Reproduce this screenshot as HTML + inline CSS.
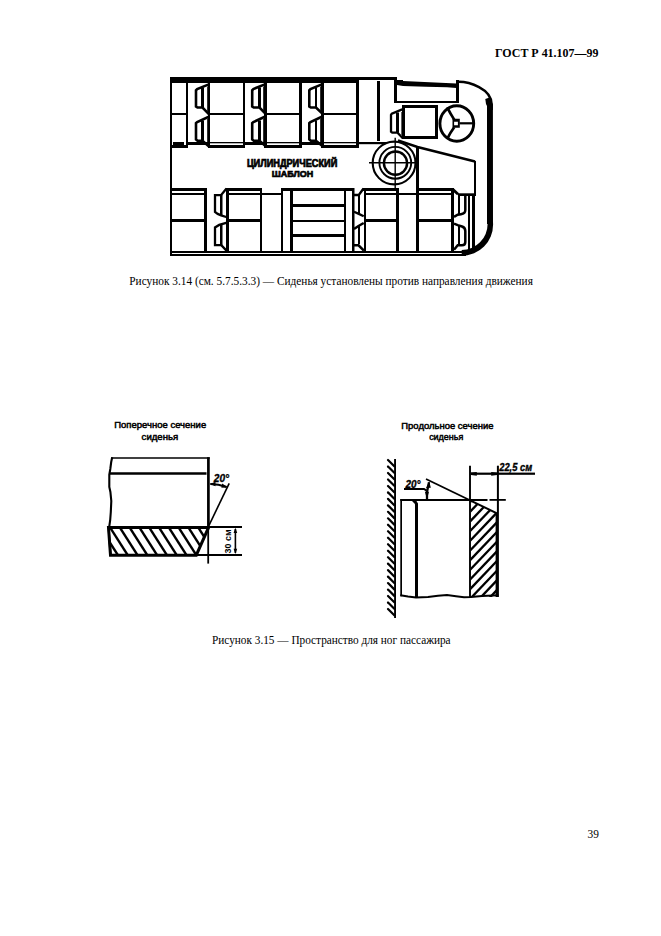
<!DOCTYPE html>
<html><head><meta charset="utf-8"><title>ГОСТ Р 41.107—99</title>
<style>
html,body{margin:0;padding:0;background:#fff;}
body{width:661px;height:936px;overflow:hidden;position:relative;}
svg{position:absolute;left:0;top:0;}
.serif{font-family:"Liberation Serif",serif;fill:#000;}
.lbl{font-family:"Liberation Sans",sans-serif;font-weight:bold;fill:#000;stroke:#000;stroke-width:0.7px;}
.lbl2{font-family:"Liberation Sans",sans-serif;font-weight:normal;fill:#000;stroke:#000;stroke-width:0.5px;}
.lbl3{font-family:"Liberation Sans",sans-serif;font-weight:bold;fill:#000;stroke:none;}
.dim{font-family:"Liberation Sans",sans-serif;font-weight:bold;font-style:italic;fill:#000;stroke:#000;stroke-width:0.35px;}
</style></head>
<body>
<svg width="661" height="936" viewBox="0 0 661 936">
<text class="serif" x="495" y="57" font-size="12.4" font-weight="bold" textLength="103.4" lengthAdjust="spacingAndGlyphs">ГОСТ Р 41.107—99</text>
<g stroke="#000" fill="none" stroke-linecap="butt" stroke-linejoin="miter">
<rect x="170" y="77" width="186" height="6" fill="#000" stroke="none"/>
<rect x="356" y="77" width="41" height="3" fill="#000" stroke="none"/>
<rect x="394" y="77" width="3" height="26" fill="#000" stroke="none"/>
<polygon points="397,80 403,80 403,81 456.5,83.4 456.5,88 447,87.3 426,86.7 403,86 397,85" fill="#000" stroke="none"/>
<rect x="456" y="80" width="3" height="23" fill="#000" stroke="none"/>
<rect x="394" y="101" width="65" height="2" fill="#000" stroke="none"/>
<path d="M458.5,81.8 C469,81.8 491.7,88.5 491.7,104.5 L491.7,110" stroke-width="2.4" fill="none"/>
<polygon points="485.3,99 489.5,97.5 492.9,104.5 493,224 487,224 487,106 486,104" fill="#000" stroke="none"/>
<path d="M493,222 L493.1,224.6 A30.8,31.1 0 0 1 462.3,255.7 L461.7,255.7 L461.7,249.9 A25.9,25.9 0 0 0 487.6,224 L487,222 Z" fill="#000" stroke="none"/>
<rect x="170" y="77" width="2" height="179" fill="#000" stroke="none"/>
<rect x="170" y="251" width="296" height="2" fill="#000" stroke="none"/>
<rect x="170" y="254" width="296" height="2" fill="#000" stroke="none"/>
<rect x="186" y="77" width="2" height="71" fill="#000" stroke="none"/>
<rect x="243" y="77" width="2" height="71" fill="#000" stroke="none"/>
<rect x="299" y="77" width="3" height="71" fill="#000" stroke="none"/>
<rect x="356" y="77" width="3" height="71" fill="#000" stroke="none"/>
<rect x="172" y="113" width="14" height="2" fill="#000" stroke="none"/>
<rect x="173" y="142" width="11" height="3" fill="#000" stroke="none"/>
<rect x="172" y="145" width="16" height="3" fill="#000" stroke="none"/>
<rect x="208" y="83" width="2" height="65" fill="#000" stroke="none"/>
<rect x="210" y="113" width="33" height="2" fill="#000" stroke="none"/>
<rect x="210" y="142" width="33" height="1.3" fill="#000" stroke="none"/>
<rect x="208" y="145" width="37" height="3" fill="#000" stroke="none"/>
<rect x="188" y="142" width="20.5" height="3" fill="#000" stroke="none"/>
<path d="M208.8,84.4 L197.2,89 L196.0,90.3 L196.0,106.5 L197.5,107.5 L202.5,107.5 L209.4,114.6" stroke-width="2.6" fill="none"/>
<rect x="201" y="87.5" width="3" height="20.0" fill="#000" stroke="none"/>
<line x1="207.6" y1="86.5" x2="207.6" y2="111" stroke-width="0.9"/>
<path d="M208.8,116.8 L197.2,122 L196.0,123.1 L196.0,139.5 L197.5,140.8 L202.5,140.8 L209.6,147" stroke-width="2.6" fill="none"/>
<rect x="201" y="120.5" width="3" height="20.0" fill="#000" stroke="none"/>
<line x1="207.6" y1="119" x2="207.6" y2="142" stroke-width="0.9"/>
<rect x="264" y="83" width="3" height="65" fill="#000" stroke="none"/>
<rect x="267" y="113" width="32" height="2" fill="#000" stroke="none"/>
<rect x="267" y="142" width="32" height="1.3" fill="#000" stroke="none"/>
<rect x="264" y="145" width="38" height="3" fill="#000" stroke="none"/>
<rect x="245" y="142" width="19.5" height="3" fill="#000" stroke="none"/>
<path d="M264.8,84.4 L253.39999999999998,89 L252.2,90.3 L252.2,106.5 L253.7,107.5 L259.5,107.5 L266.4,114.6" stroke-width="2.6" fill="none"/>
<rect x="258" y="87.5" width="3" height="20.0" fill="#000" stroke="none"/>
<line x1="263.6" y1="86.5" x2="263.6" y2="111" stroke-width="0.9"/>
<path d="M264.8,116.8 L253.39999999999998,122 L252.2,123.1 L252.2,139.5 L253.7,140.8 L259.5,140.8 L266.6,147" stroke-width="2.6" fill="none"/>
<rect x="258" y="120.5" width="3" height="20.0" fill="#000" stroke="none"/>
<line x1="263.6" y1="119" x2="263.6" y2="142" stroke-width="0.9"/>
<rect x="321" y="83" width="3" height="65" fill="#000" stroke="none"/>
<rect x="324" y="113" width="32" height="2" fill="#000" stroke="none"/>
<rect x="324" y="142" width="32" height="1.3" fill="#000" stroke="none"/>
<rect x="321" y="145" width="38" height="3" fill="#000" stroke="none"/>
<rect x="302" y="142" width="19.5" height="3" fill="#000" stroke="none"/>
<path d="M321.8,84.4 L310.5,89 L309.3,90.3 L309.3,106.5 L310.8,107.5 L316.0,107.5 L323.4,114.6" stroke-width="2.6" fill="none"/>
<rect x="315" y="87.5" width="2" height="20.0" fill="#000" stroke="none"/>
<line x1="320.6" y1="86.5" x2="320.6" y2="111" stroke-width="0.9"/>
<path d="M321.8,116.8 L310.5,122 L309.3,123.1 L309.3,139.5 L310.8,140.8 L316.0,140.8 L323.6,147" stroke-width="2.6" fill="none"/>
<rect x="315" y="120.5" width="2" height="20.0" fill="#000" stroke="none"/>
<line x1="320.6" y1="119" x2="320.6" y2="142" stroke-width="0.9"/>
<rect x="377" y="81" width="3" height="60" fill="#000" stroke="none"/>
<rect x="359" y="142" width="27" height="2.2" fill="#000" stroke="none"/>
<path d="M402.2,109.4 L391.8,113.6 L391,114.8 L391,131.6 L392.3,132.7 L397.5,132.7 L402.8,138.2" stroke-width="2.3" fill="none"/>
<rect x="396" y="112.5" width="3" height="20.2" fill="#000" stroke="none"/>
<line x1="401.8" y1="112" x2="401.8" y2="135" stroke-width="0.9"/>
<rect x="403.5" y="106.5" width="33" height="31" fill="none" stroke-width="3"/>
<ellipse cx="456.8" cy="123.5" rx="16.9" ry="17.8" fill="none" stroke-width="2.9"/>
<path d="M452.5,118.8 H459.8 V127.7 H452.5 Z M454.1,121.7 V125.2 H457.9 V121.7 Z" fill="#000" fill-rule="evenodd" stroke="none"/>
<rect x="459.5" y="122.2" width="13.5" height="2.2" fill="#000" stroke="none"/>
<path d="M454.2,119.6 Q450,113 447.2,107.4" stroke-width="2.7" fill="none"/>
<path d="M454.2,127.2 Q450,133 447.2,138.8" stroke-width="2.7" fill="none"/>
<circle cx="394.1" cy="163" r="21.4" fill="none" stroke-width="2.1"/>
<circle cx="395.3" cy="162.8" r="15.9" fill="none" stroke-width="1.9"/>
<circle cx="395.5" cy="163.1" r="11.6" fill="none" stroke-width="2.4"/>
<line x1="369" y1="162.8" x2="416.5" y2="162.8" stroke-width="1.6"/>
<line x1="395.2" y1="137.8" x2="395.2" y2="188" stroke-width="1.4"/>
<path d="M398,140.4 L417.5,147 L475,161.5" stroke-width="2.5" fill="none"/>
<rect x="474" y="161" width="2" height="34" fill="#000" stroke="none"/>
<rect x="416" y="146.5" width="3" height="104.5" fill="#000" stroke="none"/>
<rect x="172" y="188" width="35" height="3" fill="#000" stroke="none"/>
<rect x="172" y="193" width="32" height="2" fill="#000" stroke="none"/>
<rect x="204" y="188" width="3" height="63" fill="#000" stroke="none"/>
<rect x="172" y="219" width="32" height="3" fill="#000" stroke="none"/>
<rect x="226" y="188" width="3" height="63" fill="#000" stroke="none"/>
<rect x="226" y="188" width="36" height="3" fill="#000" stroke="none"/>
<rect x="229" y="193" width="52" height="2" fill="#000" stroke="none"/>
<rect x="260" y="188" width="2" height="63" fill="#000" stroke="none"/>
<rect x="229" y="219" width="31" height="3" fill="#000" stroke="none"/>
<path d="M226.5,188.5 L221,195.2 L215,195.2 L215,212 L217.7,213.9 L221.1,215.4 L226.2,217" stroke-width="2.3" fill="none"/>
<rect x="220" y="195" width="2.5" height="20" fill="#000" stroke="none"/>
<path d="M226.2,222.9 L219.2,224.9 L215,227.4 L215,245.2 L221.3,245.2 L226.5,250.6" stroke-width="2.3" fill="none"/>
<rect x="220" y="225" width="2.5" height="21" fill="#000" stroke="none"/>
<rect x="281" y="188" width="2" height="63" fill="#000" stroke="none"/>
<rect x="281" y="188" width="73" height="3" fill="#000" stroke="none"/>
<rect x="290" y="190" width="3" height="61" fill="#000" stroke="none"/>
<rect x="293" y="204" width="51" height="3" fill="#000" stroke="none"/>
<rect x="293" y="220" width="51" height="2" fill="#000" stroke="none"/>
<rect x="293" y="234" width="51" height="3" fill="#000" stroke="none"/>
<rect x="344" y="190" width="2" height="61" fill="#000" stroke="none"/>
<rect x="352" y="188" width="2.5" height="63" fill="#000" stroke="none"/>
<rect x="364" y="189" width="2" height="62" fill="#000" stroke="none"/>
<rect x="363" y="188" width="36" height="3" fill="#000" stroke="none"/>
<rect x="366" y="193" width="85" height="2" fill="#000" stroke="none"/>
<rect x="396" y="188" width="3" height="63" fill="#000" stroke="none"/>
<rect x="366" y="219" width="30" height="3" fill="#000" stroke="none"/>
<path d="M363.5,188.5 L358.8,195 L354,195 M354,211.7 L358.8,213.9 L363.7,216.2" stroke-width="2.3" fill="none"/>
<rect x="358" y="195" width="2" height="18" fill="#000" stroke="none"/>
<path d="M354,229 L358.5,226 L363.7,223 M354,245.3 L358.5,245.3 L363.9,250.6" stroke-width="2.5" fill="none"/>
<rect x="358" y="226" width="2" height="18" fill="#000" stroke="none"/>
<rect x="419" y="188" width="34.5" height="3" fill="#000" stroke="none"/>
<path d="M453,189.6 L458.1,194.2" stroke-width="2.8" fill="none"/>
<rect x="451" y="188" width="3" height="63" fill="#000" stroke="none"/>
<rect x="419" y="219" width="32" height="3" fill="#000" stroke="none"/>
<path d="M465.3,195 L465.3,210 Q465.3,213.6 461,214.2 L457.7,214.7 L454,216.9" stroke-width="2.5" fill="none"/>
<rect x="458" y="195" width="2" height="19.6" fill="#000" stroke="none"/>
<path d="M454,223.6 L457.7,225.1 L462,226.5 Q465.3,227.5 465.3,231 L465.3,242 Q465.3,245.3 462,245.3 L457.7,245.3 L454,249.8" stroke-width="2.5" fill="none"/>
<rect x="458" y="225.5" width="2" height="20.0" fill="#000" stroke="none"/>
<rect x="458" y="193.3" width="18" height="2.7" fill="#000" stroke="none"/>
<rect x="468" y="195" width="2" height="56" fill="#000" stroke="none"/>
<rect x="472" y="195" width="3" height="56" fill="#000" stroke="none"/>
<text x="246.9" y="166.8" textLength="90.4" lengthAdjust="spacingAndGlyphs" class="lbl" font-size="10">ЦИЛИНДРИЧЕСКИЙ</text>
<text x="271.8" y="176.9" textLength="41.4" lengthAdjust="spacingAndGlyphs" class="lbl" font-size="9.4">ШАБЛОН</text>
</g>
<text class="serif" x="129.3" y="285.1" font-size="11.6" textLength="403.6" lengthAdjust="spacingAndGlyphs">Рисунок 3.14 (см. 5.7.5.3.3) — Сиденья установлены против направления движения</text>
<g stroke="#000" fill="none" stroke-linecap="butt" stroke-linejoin="miter">
<line x1="111.2" y1="457.9" x2="209.7" y2="457.9" stroke-width="1.5"/>
<line x1="109" y1="473.5" x2="206.5" y2="473.5" stroke-width="2.6"/>
<path d="M112.2,457.2 L111.2,462 L110.3,469 L109.3,474.5 L109.3,487 L110.4,492 L111.3,501 L110.8,512 L110.2,520 L109.2,527" stroke-width="2.1" fill="none"/>
<line x1="208.4" y1="457.2" x2="208.4" y2="527.6" stroke-width="2.7"/>
<defs><clipPath id="hc1"><polygon points="109,528 208.5,528 196.5,555 110,555"/></clipPath><clipPath id="hc2"><polygon points="470.8,501 497,513.6 497,597 470.8,597"/></clipPath></defs>
<g clip-path="url(#hc1)"><line x1="88.20" y1="524" x2="111.24" y2="560" stroke-width="2.4"/><line x1="98.00" y1="524" x2="121.04" y2="560" stroke-width="2.4"/><line x1="107.80" y1="524" x2="130.84" y2="560" stroke-width="2.4"/><line x1="117.60" y1="524" x2="140.64" y2="560" stroke-width="2.4"/><line x1="127.40" y1="524" x2="150.44" y2="560" stroke-width="2.4"/><line x1="137.20" y1="524" x2="160.24" y2="560" stroke-width="2.4"/><line x1="147.00" y1="524" x2="170.04" y2="560" stroke-width="2.4"/><line x1="156.80" y1="524" x2="179.84" y2="560" stroke-width="2.4"/><line x1="166.60" y1="524" x2="189.64" y2="560" stroke-width="2.4"/><line x1="176.40" y1="524" x2="199.44" y2="560" stroke-width="2.4"/><line x1="186.20" y1="524" x2="209.24" y2="560" stroke-width="2.4"/><line x1="196.00" y1="524" x2="219.04" y2="560" stroke-width="2.4"/><line x1="205.80" y1="524" x2="228.84" y2="560" stroke-width="2.4"/><line x1="215.60" y1="524" x2="238.64" y2="560" stroke-width="2.4"/></g>
<path d="M108.5,527.4 L208.6,527.4 L196.3,555.2 L110.5,555.2 Z" stroke-width="3.0" fill="none"/>
<path d="M108.5,527 L109.5,541 L110.5,555" stroke-width="2.0" fill="none"/>
<rect x="209" y="526" width="33" height="2" fill="#000" stroke="none"/>
<rect x="196" y="554" width="46" height="2" fill="#000" stroke="none"/>
<line x1="208.2" y1="527" x2="208.2" y2="563.6" stroke-width="1.8"/>
<line x1="235.4" y1="529" x2="235.4" y2="553" stroke-width="1.6"/>
<polygon points="235.4,527.8 233.6,533 237.2,533" fill="#000" stroke="none"/>
<polygon points="235.4,554 233.6,548.8 237.2,548.8" fill="#000" stroke="none"/>
<text transform="translate(231.4,553.4) rotate(-90)" x="0" y="0" textLength="24" lengthAdjust="spacingAndGlyphs" class="lbl3" font-size="9.6">30 см</text>
<line x1="209" y1="525.3" x2="229.2" y2="483.4" stroke-width="1.6"/>
<path d="M210.3,484 Q218.5,484 226.6,487" stroke-width="2.2" fill="none"/>
<polygon points="209.8,484 215.5,481.8 215.5,486.2" fill="#000" stroke="none"/>
<polygon points="227.6,487.3 222.2,483.5 221.4,487.8" fill="#000" stroke="none"/>
<text x="213.8" y="482.4" textLength="15.4" lengthAdjust="spacingAndGlyphs" class="dim" font-size="11.5">20°</text>
<text x="160.2" y="428.3" text-anchor="middle" textLength="92" lengthAdjust="spacingAndGlyphs" class="lbl2" font-size="9.6">Поперечное сечение</text>
<text x="159.9" y="439.6" text-anchor="middle" textLength="36.6" lengthAdjust="spacingAndGlyphs" class="lbl2" font-size="9.6">сиденья</text>
<line x1="395.05" y1="459.1" x2="395.05" y2="617.9" stroke-width="1.9"/>
<line x1="388.0" y1="460.00" x2="394.3" y2="466.30" stroke-width="2.2" stroke-linecap="round"/><line x1="388.0" y1="466.48" x2="394.3" y2="472.78" stroke-width="2.2" stroke-linecap="round"/><line x1="388.0" y1="472.96" x2="394.3" y2="479.26" stroke-width="2.2" stroke-linecap="round"/><line x1="388.0" y1="479.43" x2="394.3" y2="485.73" stroke-width="2.2" stroke-linecap="round"/><line x1="388.0" y1="485.91" x2="394.3" y2="492.21" stroke-width="2.2" stroke-linecap="round"/><line x1="388.0" y1="492.39" x2="394.3" y2="498.69" stroke-width="2.2" stroke-linecap="round"/><line x1="388.0" y1="498.87" x2="394.3" y2="505.17" stroke-width="2.2" stroke-linecap="round"/><line x1="388.0" y1="505.35" x2="394.3" y2="511.65" stroke-width="2.2" stroke-linecap="round"/><line x1="388.0" y1="511.83" x2="394.3" y2="518.13" stroke-width="2.2" stroke-linecap="round"/><line x1="388.0" y1="518.30" x2="394.3" y2="524.60" stroke-width="2.2" stroke-linecap="round"/><line x1="388.0" y1="524.78" x2="394.3" y2="531.08" stroke-width="2.2" stroke-linecap="round"/><line x1="388.0" y1="531.26" x2="394.3" y2="537.56" stroke-width="2.2" stroke-linecap="round"/><line x1="388.0" y1="537.74" x2="394.3" y2="544.04" stroke-width="2.2" stroke-linecap="round"/><line x1="388.0" y1="544.22" x2="394.3" y2="550.52" stroke-width="2.2" stroke-linecap="round"/><line x1="388.0" y1="550.70" x2="394.3" y2="557.00" stroke-width="2.2" stroke-linecap="round"/><line x1="388.0" y1="557.17" x2="394.3" y2="563.47" stroke-width="2.2" stroke-linecap="round"/><line x1="388.0" y1="563.65" x2="394.3" y2="569.95" stroke-width="2.2" stroke-linecap="round"/><line x1="388.0" y1="570.13" x2="394.3" y2="576.43" stroke-width="2.2" stroke-linecap="round"/><line x1="388.0" y1="576.61" x2="394.3" y2="582.91" stroke-width="2.2" stroke-linecap="round"/><line x1="388.0" y1="583.09" x2="394.3" y2="589.39" stroke-width="2.2" stroke-linecap="round"/><line x1="388.0" y1="589.57" x2="394.3" y2="595.87" stroke-width="2.2" stroke-linecap="round"/><line x1="388.0" y1="596.04" x2="394.3" y2="602.34" stroke-width="2.2" stroke-linecap="round"/><line x1="388.0" y1="602.52" x2="394.3" y2="608.82" stroke-width="2.2" stroke-linecap="round"/><line x1="388.0" y1="609.00" x2="394.3" y2="615.30" stroke-width="2.2" stroke-linecap="round"/>
<line x1="401.15" y1="499" x2="401.15" y2="596.3" stroke-width="1.7"/>
<line x1="400.3" y1="499.9" x2="487.5" y2="499.9" stroke-width="2.0"/>
<line x1="489.5" y1="499.9" x2="505.8" y2="499.9" stroke-width="1.8"/>
<path d="M413.2,500.3 L415.3,502 L416.5,504 L416.5,597.5" stroke-width="3.0" fill="none"/>
<path d="M400.3,595.2 L408,596.5 L416,597.4 L428,597 L438,595.8 L447,595 L456,596.2 L464,597.2 L471,597 L482,596 L498.5,595.3" stroke-width="2.0" fill="none"/>
<g clip-path="url(#hc2)"><line x1="468" y1="484.90" x2="500" y2="451.30" stroke-width="2.3"/><line x1="468" y1="494.58" x2="500" y2="460.98" stroke-width="2.3"/><line x1="468" y1="504.26" x2="500" y2="470.66" stroke-width="2.3"/><line x1="468" y1="513.94" x2="500" y2="480.34" stroke-width="2.3"/><line x1="468" y1="523.62" x2="500" y2="490.02" stroke-width="2.3"/><line x1="468" y1="533.30" x2="500" y2="499.70" stroke-width="2.3"/><line x1="468" y1="542.98" x2="500" y2="509.38" stroke-width="2.3"/><line x1="468" y1="552.66" x2="500" y2="519.06" stroke-width="2.3"/><line x1="468" y1="562.34" x2="500" y2="528.74" stroke-width="2.3"/><line x1="468" y1="572.02" x2="500" y2="538.42" stroke-width="2.3"/><line x1="468" y1="581.70" x2="500" y2="548.10" stroke-width="2.3"/><line x1="468" y1="591.38" x2="500" y2="557.78" stroke-width="2.3"/><line x1="468" y1="601.06" x2="500" y2="567.46" stroke-width="2.3"/><line x1="468" y1="610.74" x2="500" y2="577.14" stroke-width="2.3"/><line x1="468" y1="620.42" x2="500" y2="586.82" stroke-width="2.3"/><line x1="468" y1="630.10" x2="500" y2="596.50" stroke-width="2.3"/><line x1="468" y1="639.78" x2="500" y2="606.18" stroke-width="2.3"/></g>
<line x1="470.0" y1="465.7" x2="470.0" y2="597.5" stroke-width="1.9"/>
<line x1="497.9" y1="465.7" x2="497.9" y2="597" stroke-width="2.0"/>
<line x1="496.4" y1="512.8" x2="496.4" y2="597" stroke-width="1.6"/>
<line x1="470.6" y1="500.7" x2="497" y2="513.3" stroke-width="2.0"/>
<line x1="426" y1="479" x2="470.5" y2="500.5" stroke-width="1.8"/>
<rect x="470.8" y="472.6" width="64.2" height="2.2" fill="#000" stroke="none"/>
<polygon points="471,472.6 476.8,471.9 476.8,475.8 471,475.1" fill="#000" stroke="none"/>
<polygon points="497,472.6 491.2,471.9 491.2,475.8 497,475.1" fill="#000" stroke="none"/>
<text x="499.2" y="470.9" textLength="33" lengthAdjust="spacingAndGlyphs" class="dim" font-size="11">22,5 см</text>
<text x="405.4" y="488" textLength="15" lengthAdjust="spacingAndGlyphs" class="dim" font-size="11.5">20°</text>
<path d="M404,489 L424,489 L426.6,490.6" stroke-width="2.0" fill="none"/>
<path d="M427,499 L427,492 L427.8,488 L429,482.2" stroke-width="2.3" fill="none"/>
<polygon points="427,499.2 424.9,491.8 429,491.8" fill="#000" stroke="none"/>
<polygon points="429.3,481.5 426,488 430.8,487.8" fill="#000" stroke="none"/>
<text x="447.4" y="428.6" text-anchor="middle" textLength="92.2" lengthAdjust="spacingAndGlyphs" class="lbl2" font-size="9.6">Продольное сечение</text>
<text x="446.2" y="439.6" text-anchor="middle" textLength="34.1" lengthAdjust="spacingAndGlyphs" class="lbl2" font-size="9.6">сиденья</text>
</g>
<text class="serif" x="212" y="644.4" font-size="11.6" textLength="238.6" lengthAdjust="spacingAndGlyphs">Рисунок 3.15 — Пространство для ног пассажира</text>
<text class="serif" x="587.6" y="837.6" font-size="13.2" textLength="11.4" lengthAdjust="spacingAndGlyphs">39</text>
</svg>
</body></html>
